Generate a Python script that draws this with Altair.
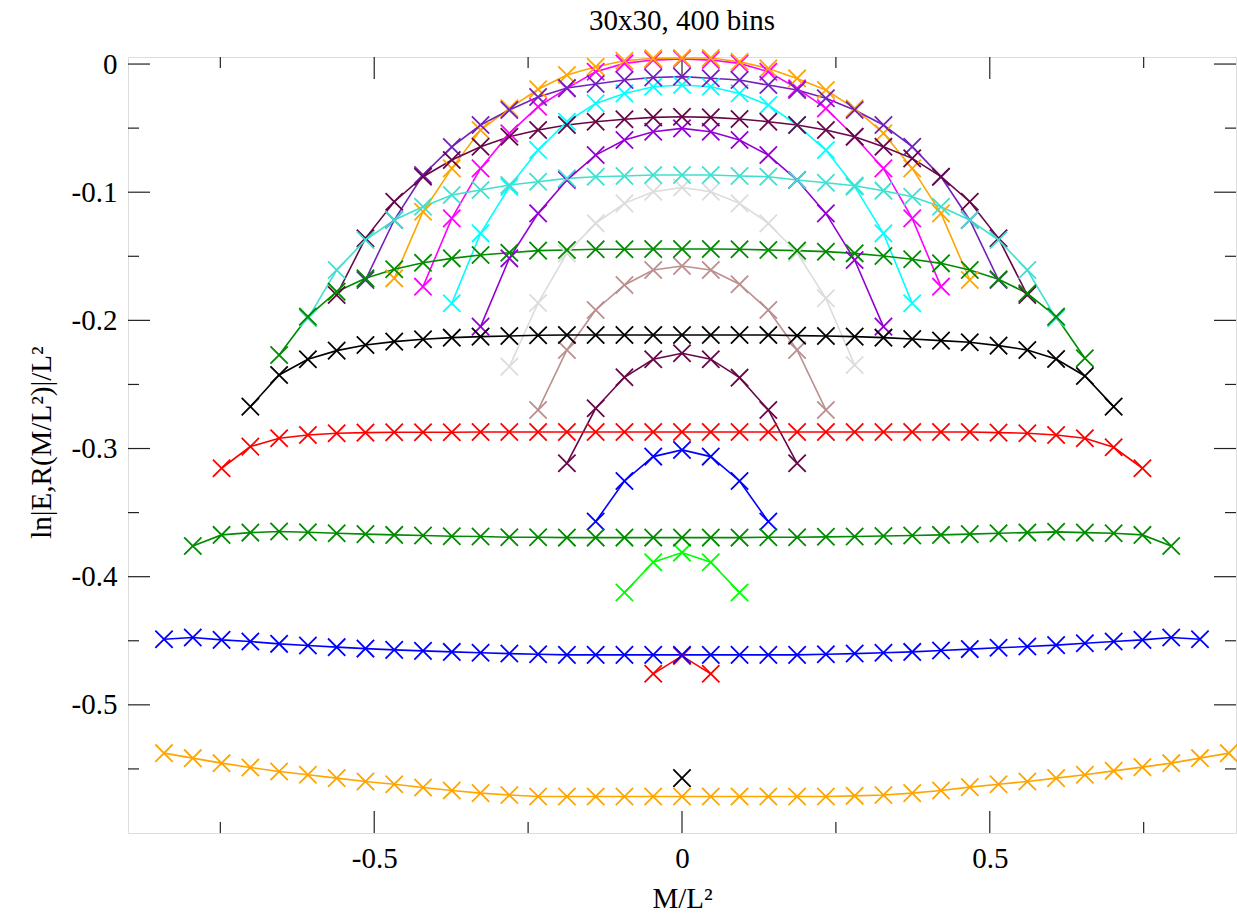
import altair as alt
import pandas as pd

# Spacing of the M/L^2 bins along the x axis
STEP = 0.04675

# ln|E,R(M/L^2)|/L^2 for each curve; curve n holds 2n+1 bins centred on M=0
Y00 = [-0.5572]
Y01 = [-0.4758, -0.4618, -0.4758]
Y02 = [-0.4124, -0.3887, -0.3812, -0.3887, -0.4124]
Y03 = [-0.3570, -0.3253, -0.3063, -0.3011, -0.3063, -0.3253, -0.3570]
Y04 = [-0.3115, -0.2686, -0.2444, -0.2303, -0.2257, -0.2303, -0.2447, -0.2699, -0.3115]
Y05 = [-0.2699, -0.2231, -0.1919, -0.1724, -0.1607, -0.1576, -0.1607, -0.1718, -0.1919,
       -0.2231, -0.2699]
Y06 = [-0.2361, -0.1864, -0.1477, -0.1243, -0.1087, -0.0996, -0.0963, -0.0996, -0.1087,
       -0.1243, -0.1474, -0.1828, -0.2348]
Y07 = [-0.2049, -0.1516, -0.1165, -0.0905, -0.0710, -0.0593, -0.0528, -0.0502, -0.0528,
       -0.0593, -0.0710, -0.0905, -0.1165, -0.1529, -0.2049]
Y08 = [-0.1867, -0.1321, -0.0959, -0.0671, -0.0450, -0.0307, -0.0229, -0.0177, -0.0164,
       -0.0177, -0.0229, -0.0320, -0.0476, -0.0671, -0.0957, -0.1321, -0.1867]
Y09 = [-0.1737, -0.1204, -0.0814, -0.0541, -0.0333, -0.0190, -0.0060, 0.0005, 0.0031,
       0.0039, 0.0031, 0.0005, -0.0060, -0.0190, -0.0346, -0.0567, -0.0814, -0.1204, -0.1737]
Y10 = [-0.1672, -0.1152, -0.0814, -0.0515, -0.0346, -0.0197, -0.0086, -0.0021, 0.0026,
       0.0044, 0.0047, 0.0047, 0.0018, -0.0034, -0.0112, -0.0203, -0.0346, -0.0540, -0.0814,
       -0.1165, -0.1685]
Y11 = [-0.1685, -0.1217, -0.0866, -0.0647, -0.0476, -0.0359, -0.0257, -0.0187, -0.0156,
       -0.0125, -0.0105, -0.0098, -0.0111, -0.0125, -0.0164, -0.0203, -0.0267, -0.0359,
       -0.0476, -0.0645, -0.0880, -0.1217, -0.1685]
Y12 = [-0.1802, -0.1360, -0.1074, -0.0879, -0.0749, -0.0645, -0.0567, -0.0515, -0.0476,
       -0.0450, -0.0431, -0.0416, -0.0411, -0.0416, -0.0429, -0.0450, -0.0476, -0.0515,
       -0.0567, -0.0645, -0.0736, -0.0879, -0.1074, -0.1360, -0.1802]
Y13 = [-0.1984, -0.1607, -0.1373, -0.1217, -0.1113, -0.1022, -0.0983, -0.0944, -0.0918,
       -0.0892, -0.0879, -0.0874, -0.0866, -0.0866, -0.0866, -0.0874, -0.0879, -0.0905,
       -0.0926, -0.0949, -0.0988, -0.1035, -0.1113, -0.1217, -0.1373, -0.1607, -0.1984]
Y14 = [-0.2270, -0.1971, -0.1776, -0.1672, -0.1601, -0.1550, -0.1516, -0.1490, -0.1472,
       -0.1456, -0.1451, -0.1445, -0.1445, -0.1443, -0.1443, -0.1443, -0.1445, -0.1451,
       -0.1456, -0.1464, -0.1477, -0.1498, -0.1523, -0.1555, -0.1607, -0.1679, -0.1789,
       -0.1971, -0.2296]
Y15 = [-0.2673, -0.2426, -0.2303, -0.2236, -0.2192, -0.2166, -0.2147, -0.2135, -0.2127,
       -0.2122, -0.2116, -0.2114, -0.2114, -0.2114, -0.2114, -0.2114, -0.2114, -0.2114,
       -0.2114, -0.2119, -0.2122, -0.2127, -0.2135, -0.2145, -0.2158, -0.2171, -0.2197,
       -0.2231, -0.2301, -0.2434, -0.2673]
Y16 = [-0.3154, -0.2985, -0.2920, -0.2894, -0.2881, -0.2876, -0.2873, -0.2873, -0.2873,
       -0.2871, -0.2871, -0.2871, -0.2871, -0.2871, -0.2871, -0.2871, -0.2871, -0.2871,
       -0.2871, -0.2871, -0.2871, -0.2871, -0.2871, -0.2871, -0.2871, -0.2871, -0.2871,
       -0.2876, -0.2881, -0.2894, -0.2920, -0.2990, -0.3154]
Y17 = [-0.3760, -0.3674, -0.3656, -0.3648, -0.3653, -0.3661, -0.3668, -0.3674, -0.3679,
       -0.3684, -0.3687, -0.3692, -0.3692, -0.3695, -0.3695, -0.3695, -0.3695, -0.3695,
       -0.3695, -0.3695, -0.3692, -0.3692, -0.3689, -0.3687, -0.3682, -0.3679, -0.3674,
       -0.3668, -0.3661, -0.3656, -0.3650, -0.3656, -0.3661, -0.3674, -0.3760]
Y18 = [-0.4488, -0.4475, -0.4493, -0.4506, -0.4524, -0.4537, -0.4550, -0.4561, -0.4571,
       -0.4579, -0.4587, -0.4594, -0.4600, -0.4605, -0.4610, -0.4610, -0.4610, -0.4610,
       -0.4610, -0.4610, -0.4610, -0.4610, -0.4610, -0.4605, -0.4600, -0.4594, -0.4587,
       -0.4576, -0.4565, -0.4555, -0.4545, -0.4534, -0.4519, -0.4506, -0.4493, -0.4475,
       -0.4488]
Y19 = [-0.5377, -0.5416, -0.5455, -0.5489, -0.5520, -0.5546, -0.5572, -0.5598, -0.5619,
       -0.5645, -0.5668, -0.5689, -0.5704, -0.5715, -0.5715, -0.5715, -0.5715, -0.5715,
       -0.5715, -0.5715, -0.5715, -0.5715, -0.5715, -0.5715, -0.5710, -0.5704, -0.5689,
       -0.5668, -0.5642, -0.5619, -0.5598, -0.5572, -0.5546, -0.5515, -0.5486, -0.5455,
       -0.5416, -0.5377]

SERIES = [Y00, Y01, Y02, Y03, Y04, Y05, Y06, Y07, Y08, Y09,
          Y10, Y11, Y12, Y13, Y14, Y15, Y16, Y17, Y18, Y19]

COLORS = ["#000000", "#ff0000", "#00ff00", "#0000ff", "#670748",
          "#bc8f8f", "#dcdcdc", "#9400d3", "#00ffff", "#ff00ff",
          "#ffa500", "#7221bc", "#670748", "#40e0d0", "#008b00",
          "#000000", "#ff0000", "#008b00", "#0000ff", "#ffa500"]

X_MAJOR = [-0.5, 0.0, 0.5]
X_MINOR = [-0.75, -0.25, 0.25, 0.75]
Y_MAJOR = [0.0, -0.1, -0.2, -0.3, -0.4, -0.5]
Y_MINOR = [-0.05, -0.15, -0.25, -0.35, -0.45, -0.55]

rows = []
for n, vals in enumerate(SERIES):
    half = (len(vals) - 1) // 2
    for i, v in enumerate(vals):
        k = i - half
        rows.append({"s": f"s{n:02d}", "k": k, "x": k * STEP, "y": v})
df = pd.DataFrame(rows)

W, H = 1108, 776
FONT = "Liberation Serif"
MAJ, MIN = 22, 11

xscale = alt.Scale(domain=[-0.9, 0.9], nice=False, zero=False)
yscale = alt.Scale(domain=[-0.6, 0.0055], nice=False, zero=False)
color = alt.Color("s:N", scale=alt.Scale(domain=[f"s{n:02d}" for n in range(20)], range=COLORS),
                  legend=None)

num_fmt = "datum.value == 0 ? '0' : (datum.value < 0 ? '-' : '') + format(abs(datum.value), '.1f')"

x_axis = alt.Axis(values=X_MAJOR, ticks=False, tickSize=0, domain=False, grid=False,
                  labelFont=FONT, labelFontSize=29, labelColor="black",
                  labelBaseline="alphabetic", labelPadding=34, labelExpr=num_fmt,
                  title="M/L²", titleFont=FONT, titleFontSize=29, titleFontWeight="normal",
                  titleColor="black", titleBaseline="alphabetic", titleY=74)
y_axis = alt.Axis(values=Y_MAJOR, ticks=False, tickSize=0, domain=False, grid=False,
                  labelFont=FONT, labelFontSize=29, labelColor="black",
                  labelBaseline="middle", labelPadding=11, labelExpr=num_fmt,
                  title="ln|E,R(M/L²)|/L²", titleFont=FONT, titleFontSize=29,
                  titleFontWeight="normal", titleColor="black", titleBaseline="alphabetic",
                  titleAngle=270, titleX=-78, titleY=385)

lines = alt.Chart(df).mark_line(strokeWidth=1.6).encode(
    x=alt.X("x:Q", scale=xscale, axis=x_axis),
    y=alt.Y("y:Q", scale=yscale, axis=y_axis),
    color=color,
    order="k:Q",
)

points = alt.Chart(df).mark_point(
    shape="M-1,-1L1,1M-1,1L1,-1", filled=False, size=300, strokeWidth=1.8, opacity=1
).encode(
    x=alt.X("x:Q", scale=xscale),
    y=alt.Y("y:Q", scale=yscale),
    color=color,
)

tick_style = dict(color="#222222", strokeWidth=1.2)


def x_ticks(vals, length):
    d = pd.DataFrame({"x": vals})
    bottom = alt.Chart(d).mark_rule(**tick_style).encode(
        x=alt.X("x:Q", scale=xscale), y=alt.value(H), y2=alt.value(H - length))
    top = alt.Chart(d).mark_rule(**tick_style).encode(
        x=alt.X("x:Q", scale=xscale), y=alt.value(0), y2=alt.value(length))
    return [bottom, top]


def y_ticks(vals, length):
    d = pd.DataFrame({"y": vals})
    left = alt.Chart(d).mark_rule(**tick_style).encode(
        y=alt.Y("y:Q", scale=yscale), x=alt.value(0), x2=alt.value(length))
    right = alt.Chart(d).mark_rule(**tick_style).encode(
        y=alt.Y("y:Q", scale=yscale), x=alt.value(W), x2=alt.value(W - length))
    return [left, right]


tick_layers = (x_ticks(X_MAJOR, MAJ) + x_ticks(X_MINOR, MIN)
               + y_ticks(Y_MAJOR, MAJ) + y_ticks(Y_MINOR, MIN))

chart = alt.layer(*tick_layers, lines, points).properties(
    width=W,
    height=H,
    autosize=alt.AutoSizeParams(type="none"),
    padding={"left": 128, "top": 57, "right": 1, "bottom": 81},
    title=alt.Title("30x30, 400 bins", font=FONT, fontSize=29, fontWeight="normal",
                    color="black", anchor="middle", offset=10),
).configure_view(
    stroke="#555555", strokeWidth=2
).configure(background="white")

chart.save("out.html", embed_options={"renderer": "svg", "actions": False})
